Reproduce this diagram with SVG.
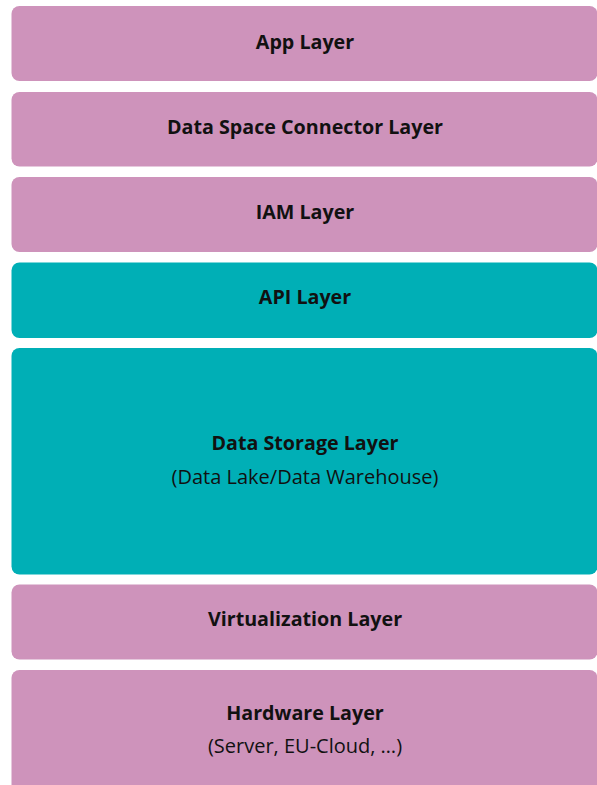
<svg xmlns="http://www.w3.org/2000/svg" width="597" height="785" viewBox="0 0 597 785">
<style>
.pink{fill:#CE93BB}
.teal{fill:#00AFB6}
text{font-family:"Open Sans","Liberation Sans",sans-serif;font-size:20px;fill:#111;text-anchor:middle}
.b{font-weight:bold;font-size:19.7px}
</style>
<rect width="597" height="785" fill="#fff"/>
<g id="app"><rect class="pink" x="11.5" y="6" width="586" height="75" rx="8"/><text class="b" x="305" y="49">App Layer</text></g>
<g id="dsc"><rect class="pink" x="11.5" y="92" width="586" height="74.5" rx="8"/><text class="b" x="305" y="134">Data Space Connector Layer</text></g>
<g id="iam"><rect class="pink" x="11.5" y="177" width="586" height="75" rx="8"/><text class="b" x="305" y="219">IAM Layer</text></g>
<g id="api"><rect class="teal" x="11.5" y="262.5" width="586" height="75.5" rx="8"/><text class="b" x="305" y="304">API Layer</text></g>
<g id="storage"><rect class="teal" x="11.5" y="348" width="586" height="226.5" rx="8"/><text class="b" x="305" y="450">Data Storage Layer</text><text x="305" y="484">(Data Lake/Data Warehouse)</text></g>
<g id="virt"><rect class="pink" x="11.5" y="584.5" width="586" height="75" rx="8"/><text class="b" x="305" y="626">Virtualization Layer</text></g>
<g id="hw"><rect class="pink" x="11.5" y="670" width="586" height="125" rx="8"/><text class="b" x="305" y="720">Hardware Layer</text><text x="305" y="753">(Server, EU-Cloud, …)</text></g>
<g id="connectors"/>
</svg>
